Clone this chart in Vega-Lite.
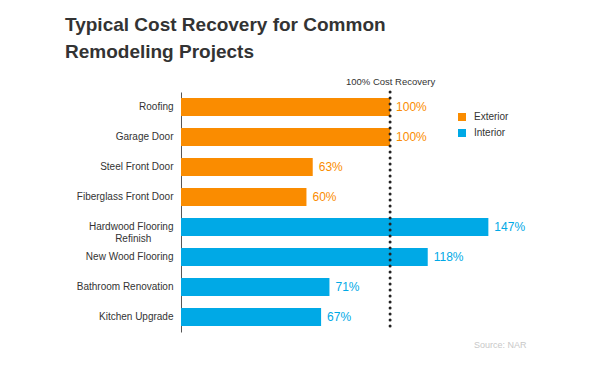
{
  "$schema": "https://vega.github.io/schema/vega-lite/v6.json",
  "width": 345,
  "height": 240,
  "autosize": {"type": "none"},
  "padding": {"left": 181, "top": 92, "right": 74, "bottom": 37},
  "background": "white",
  "config": {"view": {"stroke": null}, "font": "Liberation Sans"},
  "title": {
    "text": ["Typical Cost Recovery for Common", "Remodeling Projects"],
    "anchor": "start",
    "frame": "group",
    "dx": -116,
    "dy": -10,
    "fontSize": 19,
    "fontWeight": "bold",
    "color": "#333333",
    "lineHeight": 27,
    "font": "Liberation Sans"
  },
  "data": {
    "values": [
      {"project": "Roofing", "category": "Exterior", "value": 1.00},
      {"project": "Garage Door", "category": "Exterior", "value": 1.00},
      {"project": "Steel Front Door", "category": "Exterior", "value": 0.63},
      {"project": "Fiberglass Front Door", "category": "Exterior", "value": 0.60},
      {"project": "Hardwood Flooring Refinish", "category": "Interior", "value": 1.47},
      {"project": "New Wood Flooring", "category": "Interior", "value": 1.18},
      {"project": "Bathroom Renovation", "category": "Interior", "value": 0.71},
      {"project": "Kitchen Upgrade", "category": "Interior", "value": 0.67}
    ]
  },
  "resolve": {"axis": {"x": "independent"}},
  "layer": [
    {
      "mark": {"type": "bar"},
      "encoding": {
        "y": {
          "field": "project", "type": "nominal", "sort": null,
          "scale": {"paddingInner": 0.4, "paddingOuter": 0.2},
          "axis": {
            "title": null, "ticks": false, "domainColor": "#555555", "domainWidth": 1,
            "labelFontSize": 10, "labelColor": "#333333", "labelPadding": 8, "labelLineHeight": 12,
            "labelExpr": "datum.value == 'Hardwood Flooring Refinish' ? ['Hardwood Flooring', 'Refinish\u00a0\u00a0\u00a0\u00a0\u00a0\u00a0\u00a0\u00a0\u2060'] : datum.value"
          }
        },
        "x": {
          "field": "value", "type": "quantitative",
          "scale": {"domain": [0, 1.65], "nice": false},
          "axis": {
            "orient": "top", "values": [1], "labelExpr": "'100% Cost Recovery'",
            "ticks": false, "domain": false, "grid": false, "title": null,
            "labelFontSize": 9.5, "labelColor": "#333333", "labelPadding": 6
          }
        },
        "color": {
          "field": "category", "type": "nominal",
          "scale": {"domain": ["Exterior", "Interior"], "range": ["#FA8C00", "#00A9E6"]},
          "legend": {
            "title": null, "orient": "none", "legendX": 276, "legendY": 20,
            "symbolType": "square", "symbolSize": 64, "symbolStrokeWidth": 0,
            "labelFontSize": 10, "labelColor": "#333333", "labelOffset": 7, "rowPadding": 6
          }
        }
      }
    },
    {
      "mark": {"type": "text", "align": "left", "baseline": "middle", "dx": 6, "fontSize": 12},
      "encoding": {
        "y": {"field": "project", "type": "nominal", "sort": null},
        "x": {"field": "value", "type": "quantitative", "scale": {"domain": [0, 1.65], "nice": false}, "axis": null},
        "text": {"field": "value", "type": "quantitative", "format": ".0%"},
        "color": {
          "field": "category", "type": "nominal",
          "scale": {"domain": ["Exterior", "Interior"], "range": ["#FA8C00", "#00A9E6"]},
          "legend": null
        }
      }
    },
    {
      "data": {"values": [{"recovery": 1}]},
      "mark": {"type": "rule", "strokeDash": [0, 6], "strokeCap": "round", "strokeWidth": 3, "color": "#222222"},
      "encoding": {
        "x": {
          "field": "recovery", "type": "quantitative",
          "scale": {"domain": [0, 1.65], "nice": false},
          "axis": {
            "orient": "bottom", "labels": false, "ticks": false, "domain": false, "grid": false,
            "title": "Source: NAR", "titleAnchor": "end", "titleColor": "#c8c8c8",
            "titleFontSize": 9, "titleFontWeight": "normal", "titlePadding": 8
          }
        }
      }
    }
  ]
}
